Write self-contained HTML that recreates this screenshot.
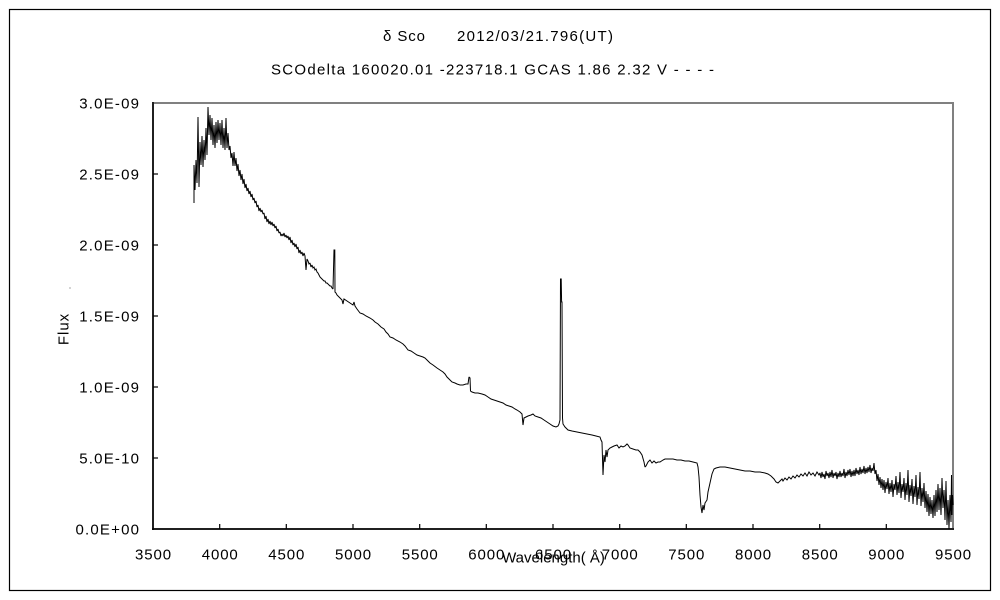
<!DOCTYPE html>
<html>
<head>
<meta charset="utf-8">
<style>
html,body{margin:0;padding:0;background:#fff;}
svg{display:block;}
text{font-family:"Liberation Sans","Noto Sans CJK JP",sans-serif;fill:#000;}
</style>
</head>
<body>
<svg width="1000" height="600" viewBox="0 0 1000 600" xmlns="http://www.w3.org/2000/svg">
<rect x="0" y="0" width="1000" height="600" fill="#fff"/>
<rect x="9.5" y="9.5" width="981" height="581" fill="none" stroke="#000" stroke-width="1.2"/>

<!-- titles -->
<text x="383" y="41" font-size="15" textLength="42" lengthAdjust="spacing">δ Sco</text>
<text x="457" y="41" font-size="15" textLength="156" lengthAdjust="spacing">2012/03/21.796(UT)</text>
<text x="271" y="74.5" font-size="15" textLength="443" lengthAdjust="spacing">SCOdelta 160020.01 -223718.1 GCAS 1.86 2.32 V - - - -</text>

<!-- plot frame -->
<rect x="153" y="103" width="800" height="426" fill="none" stroke="#808080" stroke-width="2"/>
<line x1="153" y1="102" x2="153" y2="530" stroke="#000" stroke-width="1.5"/>
<line x1="152" y1="529" x2="954" y2="529" stroke="#000" stroke-width="1.5"/>

<!-- y ticks -->
<g stroke="#000" stroke-width="1.2">
<line x1="153" y1="458" x2="158" y2="458"/>
<line x1="153" y1="387" x2="158" y2="387"/>
<line x1="153" y1="316" x2="158" y2="316"/>
<line x1="153" y1="245" x2="158" y2="245"/>
<line x1="153" y1="174" x2="158" y2="174"/>
</g>
<!-- x ticks -->
<g stroke="#000" stroke-width="1.2">
<line x1="219.7" y1="529" x2="219.7" y2="524"/>
<line x1="286.3" y1="529" x2="286.3" y2="524"/>
<line x1="353" y1="529" x2="353" y2="524"/>
<line x1="419.7" y1="529" x2="419.7" y2="524"/>
<line x1="486.3" y1="529" x2="486.3" y2="524"/>
<line x1="553" y1="529" x2="553" y2="524"/>
<line x1="619.7" y1="529" x2="619.7" y2="524"/>
<line x1="686.3" y1="529" x2="686.3" y2="524"/>
<line x1="753" y1="529" x2="753" y2="524"/>
<line x1="819.7" y1="529" x2="819.7" y2="524"/>
<line x1="886.3" y1="529" x2="886.3" y2="524"/>
</g>

<!-- y labels -->
<g font-size="15" text-anchor="end" letter-spacing="1.2">
<text x="140.2" y="108.5">3.0E-09</text>
<text x="140.2" y="179.5">2.5E-09</text>
<text x="140.2" y="250.5">2.0E-09</text>
<text x="140.2" y="321.5">1.5E-09</text>
<text x="140.2" y="392.5">1.0E-09</text>
<text x="140.2" y="463.5">5.0E-10</text>
<text x="140.2" y="534.5">0.0E+00</text>
</g>

<!-- x labels -->
<g font-size="15" text-anchor="middle" letter-spacing="0.9">
<text x="153.5" y="559.5">3500</text>
<text x="220.2" y="559.5">4000</text>
<text x="286.8" y="559.5">4500</text>
<text x="353.5" y="559.5">5000</text>
<text x="420.2" y="559.5">5500</text>
<text x="486.8" y="559.5">6000</text>
<text x="553.5" y="559.5">6500</text>
<text x="620.2" y="559.5">7000</text>
<text x="686.8" y="559.5">7500</text>
<text x="753.5" y="559.5">8000</text>
<text x="820.2" y="559.5">8500</text>
<text x="886.8" y="559.5">9000</text>
<text x="953.5" y="559.5">9500</text>
</g>

<!-- axis titles -->
<text x="553.5" y="562.5" font-size="15" text-anchor="middle">Wavelength( Å)</text>
<text transform="translate(68.5,329) rotate(-90)" font-size="15" text-anchor="middle" letter-spacing="1">Flux</text>
<rect x="69.5" y="287.5" width="1" height="1" fill="#555"/>

<!-- spectrum -->
<polyline fill="none" stroke="#000" stroke-width="1" stroke-linejoin="miter" stroke-miterlimit="2" points="
194,203 194,165 195,190 196,160 197,183 198,117 199,187 200,142 201,165 202,136 203,167 204,140 205,160 206,128 207,155 208,107 209,135 210,115 211,140 212,118 213,145 214,125 215,148 216,122 217,143 218,120 219,140 220,123 221,145 222,120 223,148 224,128 225,150 226,118 227,148
228,133 229,150 230,146 231,158 232,153 233,166 234,152 235,166 236,158 237,171 238,164 239,176 240,170 241,180 242,174 243,184 244,179 245,188 246,184 247,191 248,188 249,194 250,191 251,197 252,194 253,200 254,198 255,203 256,201 257,207 258,205 259,211 260,208 261,212
262,210 263,214 264,213 265,219 266,216 267,222 268,219 269,224 270,221 271,225 272,222 273,226 274,224 275,228 276,226 277,231 278,229 279,233 280,232 281,236 282,234 283,236 284,233 285,237 286,235 287,238 288,236 289,240 290,237 291,243 292,240 293,245 294,243 295,247 296,244 297,249 298,247 299,253 300,250 301,254 302,252 303,256 304,253 305,256 306,270 307,259 308,261 309,264 310,263 311,267 312,265 313,268 314,267 315,270 316,269 317,272 318,273 319,275 320,277 321,278 322,279 323,280 324,281 325,281 326,283 327,283 328,284 329,285 330,286 331,286 332,288 333,289 334,250 334.8,250 335,292 336,293 337,295
340,298 342,300 343,304 344,299 347,301 350,303 353,305 354,302 355,306 357,309 360,313 363,314 366,316 370,318 373,320 375,322 378,324 381,327 384,329 386,332 388,334 390,337 393,338 396,340 400,342 403,344 405,346 408,350 411,351 414,353 417,355 420,356 423,357 425,358 428,361 430,363 433,365 437,368 440,370 443,372 445,374 447,377 450,380 452,382 455,383 457,384 460,385 463,385 466,384 468,384 469,377 470,378 470.5,391 472,392 475,393 478,393 482,394 485,395 488,397 491,399 494,400 497,401 500,402 503,403 506,405 509,406 512,407 515,409 517,410 520,412 522,414 523,425 524,418 526,417 528,416 531,415 533,414 535,416 538,417 541,418 544,420 547,422 550,424 553,426 556,427 558,426 559,424 560,420 560.5,279 561.2,279 561.6,302 562,302 562.5,418 563,424 565,427 568,430 572,431 577,432 582,433 587,434 592,435 596,436 600,437
601,440 602,442 603,475 604,455 605,462 606,450 607,457 608,450 610,448 612,447 614,446 617,445 619,448 621,446 623,447 625,446 627,444 628,445 630,448 633,449 636,450 638,450 640,452 642,455 644,462 645,467 646,466 647,464 648,462 650,460 652,463 654,461 656,463 658,462 660,462 663,460 665,459 669,459 673,459 677,460 681,460 685,461 689,461 693,462 697,463 698,467 699,477 700,495 701,507 702,513 703,505 704,510 705,503 707,500 708,492 710,483 712,474 714,469 716,468 720,467 725,467 730,468 735,469 740,470 745,471 750,471 755,472 760,472 765,473 768,474 771,476 774,479 776,482 778,483
780,481 782,479 783,481 785,478 787,480 789,477 791,479 793,476 795,478 797,475 799,477 801,474 803,476 805,473 807,476 809,472 811,475 813,473 815,476 817,472 819,475
820,473 821,478 822,472 823,477 824,474 825,479 826,471 827,476 828,473 829,478 830,472 831,477 832,470 833,478 834,473 835,476 836,472 837,479 838,473 839,477 840,471 841,477 842,473 843,476 844,469 845,478 846,472 847,476 848,470 849,475 850,469 851,477 852,471 853,476 854,470 855,476 856,468 857,474 858,470 859,475 860,467 861,474 862,469 863,473 864,466 865,474 866,468 867,473 868,467 869,472 870,465 871,473 872,468 873,471 874,463 875,474
876,470 877,481 878,474 879,485 880,477 881,488 882,479 883,490 884,480 885,493 886,482 887,489 888,478 889,494 890,483 891,492 892,480 893,497 894,484 895,490 896,476 897,495 898,482 899,493 900,472 901,498 902,484 903,492 904,478 905,500 906,483 907,495 908,470 909,502 910,485 911,496 912,479 913,504 914,486 915,497 916,475 917,505 918,487 919,499 920,472 921,506 922,488 923,502 924,483 925,508 926,491 927,512 928,494 929,516 930,497 931,514 932,500 933,518 934,495 935,516 936,490 937,512 938,484 939,510 940,488 941,515 942,478 943,508 944,490 945,520 946,481 947,525 948,500 949,529 950,495 951,522 951.5,475 952,515 952.5,495 953,505"/>
</svg>
</body>
</html>
